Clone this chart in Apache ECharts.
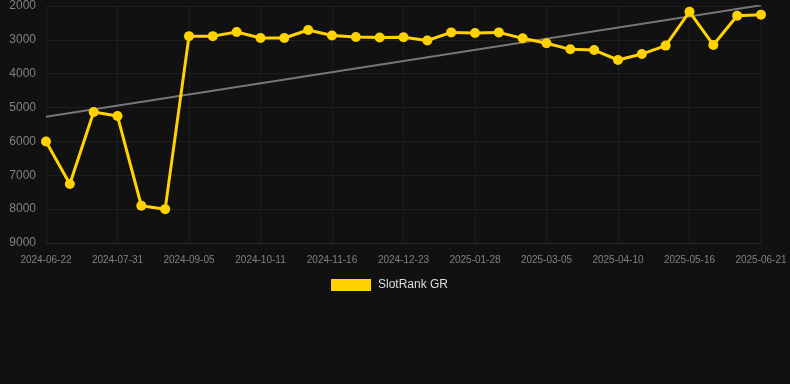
<!DOCTYPE html>
<html>
<head>
<meta charset="utf-8">
<script src="https://cdn.jsdelivr.net/npm/echarts@6/dist/echarts.min.js"></script>
<style>html,body{margin:0;padding:0;background:#111111;}#c{width:790px;height:384px;}</style>
</head>
<body>
<div id="c"></div>
<script>
var categories = ["2024-06-22","2024-07-05","2024-07-18","2024-07-31","2024-08-12","2024-08-24","2024-09-05","2024-09-17","2024-09-29","2024-10-11","2024-10-23","2024-11-04","2024-11-16","2024-11-28","2024-12-11","2024-12-23","2025-01-04","2025-01-16","2025-01-28","2025-02-09","2025-02-21","2025-03-05","2025-03-17","2025-03-29","2025-04-10","2025-04-22","2025-05-04","2025-05-16","2025-05-28","2025-06-09","2025-06-21"];
var rankValues = [6000,7260,5130,5250,7900,8000,2890,2890,2770,2945,2945,2710,2870,2915,2930,2925,3020,2780,2800,2780,2955,3100,3280,3300,3595,3420,3170,2170,3150,2290,2255];
var yTicks = [2000,3000,4000,5000,6000,7000,8000,9000];

// least-squares trend line from the data
var n = rankValues.length, sx=0, sy=0, sxy=0, sxx=0;
for (var i=0;i<n;i++){sx+=i;sy+=rankValues[i];sxy+=i*rankValues[i];sxx+=i*i;}
var slope = (n*sxy - sx*sy)/(n*sxx - sx*sx);
var icpt = (sy - slope*sx)/n;
var trend = rankValues.map(function(v,i){return (i===0||i===n-1)? icpt+slope*i : null;});

var chart = echarts.init(document.getElementById('c'), null, {renderer:'canvas'});
chart.setOption({
  backgroundColor:'#111111',
  animation:false,
  grid:{left:46,right:29,top:6,bottom:141,containLabel:false},
  legend:{
    data:[{name:'SlotRank GR'}],
    bottom:88,left:326,
    itemWidth:40,itemHeight:12,icon:'rect',itemGap:10,
    textStyle:{color:'#dddddd',fontSize:12,padding:[0,0,0,2],fontFamily:'Arial, Liberation Sans, sans-serif'}
  },
  xAxis:{
    type:'category',data:categories,boundaryGap:false,
    axisLine:{show:true,lineStyle:{color:'#2a2a2a',width:1}},axisTick:{show:false},
    axisLabel:{interval:2,color:'#808080',fontSize:10,margin:12,fontFamily:'Arial, Liberation Sans, sans-serif'},
    splitLine:{show:true,interval:2,lineStyle:{color:'#1e1e1e',width:1}}
  },
  yAxis:{
    type:'value',inverse:true,min:yTicks[0],max:yTicks[yTicks.length-1],interval:1000,
    axisLine:{show:false},axisTick:{show:false},
    axisLabel:{color:'#808080',fontSize:12,margin:10,formatter:function(v){return String(v);},fontFamily:'Arial, Liberation Sans, sans-serif'},
    splitLine:{lineStyle:{color:'#1e1e1e',width:1}}
  },
  series:[
    {name:'trend',type:'line',data:trend,connectNulls:true,symbol:'none',silent:true,
     lineStyle:{color:'#777777',width:2},itemStyle:{color:'#777777'},z:1},
    {name:'SlotRank GR',type:'line',data:rankValues,symbol:'circle',symbolSize:10,
     lineStyle:{color:'#ffd200',width:3},itemStyle:{color:'#ffd200'},z:2}
  ]
});
</script>
</body>
</html>
